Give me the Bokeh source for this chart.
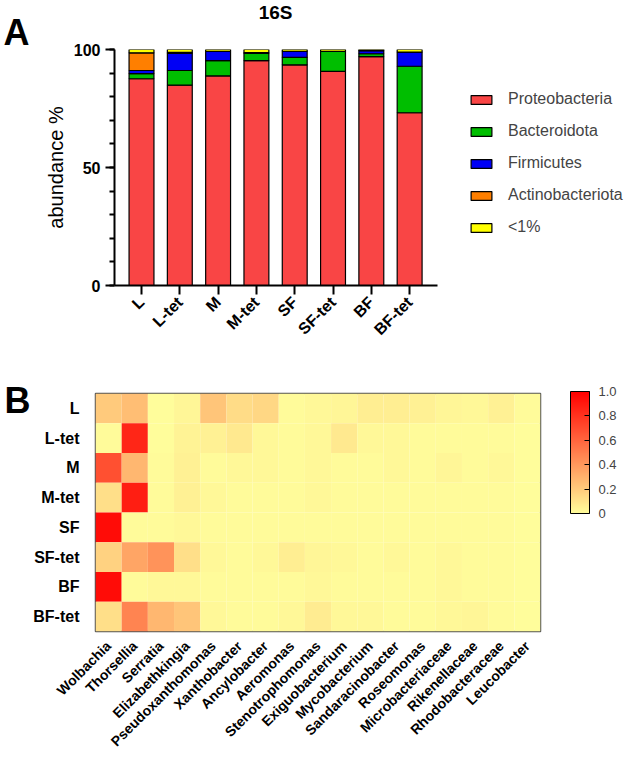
import numpy as np
from math import pi
from bokeh.plotting import figure
from bokeh.models import (ColumnDataSource, FixedTicker, Legend, LegendItem,
                          LinearColorMapper, ColorBar, Range1d, FactorRange)
from bokeh.core.properties import value
from bokeh.embed import file_html
from bokeh.resources import INLINE

# ---------------- data ----------------
samples = ["L", "L-tet", "M", "M-tet", "SF", "SF-tet", "BF", "BF-tet"]
phyla = ["Proteobacteria", "Bacteroidota", "Firmicutes", "Actinobacteriota", "<1%"]
proteobacteria   = [87.6, 84.9, 88.8, 95.3, 93.5, 90.7, 97.0, 73.2]
bacteroidota     = [2.2, 6.2, 6.5, 3.1, 3.2, 8.5, 1.2, 19.7]
firmicutes       = [1.3, 7.3, 3.9, 0.3, 2.5, 0.0, 1.3, 6.0]
actinobacteriota = [7.5, 0.4, 0.0, 0.0, 0.0, 0.0, 0.0, 0.0]
below_1pct       = [1.4, 1.2, 0.8, 1.3, 0.8, 0.8, 0.5, 1.1]
phylum_colors = ["#F94545", "#00BE00", "#0000F5", "#FF7F00", "#FFFF00"]

genera = ["Wolbachia", "Thorsellia", "Serratia", "Elizabethkingia", "Pseudoxanthomonas",
          "Xanthobacter", "Ancylobacter", "Aeromonas", "Stenotrophomonas", "Exiguobacterium",
          "Mycobacterium", "Sandaracinobacter", "Roseomonas", "Microbacteriaceae",
          "Rikenellaceae", "Rhodobacteraceae", "Leucobacter"]
heat_L     = [0.20, 0.25, 0.00, 0.03, 0.22, 0.13, 0.15, 0.01, 0.02, 0.03, 0.06, 0.06, 0.05, 0.03, 0.02, 0.05, 0.01]
heat_Ltet  = [0.01, 0.85, 0.00, 0.04, 0.05, 0.08, 0.02, 0.01, 0.02, 0.08, 0.02, 0.02, 0.01, 0.01, 0.01, 0.01, 0.00]
heat_M     = [0.68, 0.28, 0.01, 0.05, 0.01, 0.02, 0.02, 0.01, 0.02, 0.01, 0.01, 0.02, 0.01, 0.03, 0.01, 0.02, 0.00]
heat_Mtet  = [0.12, 0.88, 0.01, 0.05, 0.02, 0.01, 0.01, 0.01, 0.02, 0.01, 0.01, 0.01, 0.01, 0.01, 0.01, 0.01, 0.00]
heat_SF    = [0.95, 0.01, 0.01, 0.02, 0.01, 0.01, 0.01, 0.01, 0.01, 0.01, 0.01, 0.01, 0.01, 0.01, 0.01, 0.01, 0.00]
heat_SFtet = [0.17, 0.35, 0.42, 0.12, 0.02, 0.01, 0.02, 0.06, 0.03, 0.02, 0.01, 0.02, 0.01, 0.02, 0.01, 0.01, 0.00]
heat_BF    = [0.95, 0.01, 0.02, 0.02, 0.01, 0.01, 0.01, 0.01, 0.02, 0.01, 0.01, 0.01, 0.01, 0.02, 0.01, 0.01, 0.00]
heat_BFtet = [0.12, 0.48, 0.28, 0.22, 0.02, 0.01, 0.01, 0.02, 0.07, 0.02, 0.02, 0.01, 0.01, 0.02, 0.03, 0.01, 0.00]
heat_rows = [heat_L, heat_Ltet, heat_M, heat_Mtet, heat_SF, heat_SFtet, heat_BF, heat_BFtet]
cbar_ticks = [0, 0.2, 0.4, 0.6, 0.8, 1.0]

FONT = "Liberation Sans"

# ---------------- panel A: stacked bars ----------------
xpos = list(range(len(samples)))
src = ColumnDataSource(dict(x=xpos, Proteobacteria=proteobacteria, Bacteroidota=bacteroidota,
                            Firmicutes=firmicutes, Actinobacteriota=actinobacteriota,
                            **{"<1%": below_1pct}))

pa = figure(width=629, height=350, output_backend="svg", toolbar_location=None,
            x_range=Range1d(-0.705, 12.74), y_range=Range1d(0, 100),
            min_border_left=114, min_border_right=0, min_border_top=49, min_border_bottom=65)
pa.outline_line_color = None
pa.grid.visible = False

rs = pa.vbar_stack(phyla, x="x", width=0.65, source=src, color=phylum_colors,
                   line_color="black", line_width=1.2)

xa = pa.xaxis[0]
xa.ticker = FixedTicker(ticks=xpos)
xa.major_label_overrides = {i: s for i, s in enumerate(samples)}
xa.major_label_orientation = pi / 4
xa.bounds = (-0.705, 7.73)
xa.axis_line_width = 2
xa.major_tick_line_width = 2
xa.major_tick_out = 9
xa.major_tick_in = 0
xa.minor_tick_line_color = None
xa.major_label_text_font = FONT
xa.major_label_text_font_style = "bold"
xa.major_label_text_font_size = "16px"
xa.major_label_text_color = "black"
xa.major_label_standoff = 5

ya = pa.yaxis[0]
ya.ticker = FixedTicker(ticks=[0, 50, 100], minor_ticks=list(range(0, 101, 10)))
ya.axis_line_width = 2
ya.major_tick_line_width = 2
ya.minor_tick_line_width = 2
ya.major_tick_out = 9
ya.major_tick_in = 0
ya.minor_tick_out = 5
ya.minor_tick_in = 0
ya.major_label_text_font = FONT
ya.major_label_text_font_style = "bold"
ya.major_label_text_font_size = "16px"
ya.major_label_text_color = "black"
ya.axis_label = "abundance %"
ya.axis_label_text_font = FONT
ya.axis_label_text_font_style = "normal"
ya.axis_label_text_font_size = "20px"
ya.axis_label_text_color = "black"
ya.axis_label_standoff = 4

items = [LegendItem(label=name, renderers=[r]) for name, r in zip(phyla, rs)]
leg = Legend(items=items, location=(354, 48), glyph_width=26, glyph_height=11,
             label_height=20, spacing=12, padding=0, margin=0,
             label_text_font=FONT, label_text_font_size="16px", label_standoff=14,
             border_line_color=None, background_fill_alpha=0)
pa.add_layout(leg, "center")

pa.text(x=[3.5], y=[100], text=["16S"], y_offset=-37, level="overlay",
        text_font=value(FONT), text_font_style="bold", text_font_size="19px",
        text_align="center", text_baseline="alphabetic", text_color="black")
pa.text(x=[-0.705], y=[100], text=["A"], x_offset=-111, y_offset=-17, level="overlay",
        text_font=value(FONT), text_font_style="bold", text_font_size="36px",
        text_align="left", text_baseline="alphabetic", text_color="black")

# ---------------- panel B: heatmap ----------------
xs, ys, vs = [], [], []
for s, row in zip(samples, heat_rows):
    for g, v in zip(genera, row):
        xs.append(g)
        ys.append(s)
        vs.append(v)
hsrc = ColumnDataSource(dict(genus=xs, sample=ys, value=vs))

t = np.linspace(0, 1, 256)
c0 = np.array([255, 253, 155])
c1 = np.array([255, 0, 0])
palette = ["#%02x%02x%02x" % tuple(int(round(v)) for v in (c0 + (c1 - c0) * ti)) for ti in t]
mapper = LinearColorMapper(palette=palette, low=0, high=1)

pb = figure(width=629, height=407, output_backend="svg", toolbar_location=None,
            x_range=FactorRange(*genera), y_range=FactorRange(*reversed(samples)),
            min_border_left=95, min_border_right=89, min_border_top=43, min_border_bottom=124)
pb.grid.visible = False
pb.outline_line_color = "#555555"
pb.outline_line_width = 1.5
pb.rect(x="genus", y="sample", width=1, height=1, source=hsrc,
        fill_color={"field": "value", "transform": mapper}, line_color=None)

for ax in (pb.xaxis[0], pb.yaxis[0]):
    ax.axis_line_color = None
    ax.major_tick_line_color = None
    ax.minor_tick_line_color = None
    ax.major_label_text_font = FONT
    ax.major_label_text_font_style = "bold"
    ax.major_label_text_color = "black"
pb.yaxis[0].major_label_text_font_size = "16px"
pb.yaxis[0].major_label_standoff = 10
pb.xaxis[0].major_label_text_font_size = "14px"
pb.xaxis[0].major_label_orientation = pi / 4
pb.xaxis[0].major_label_standoff = 6

cb = ColorBar(color_mapper=mapper, ticker=FixedTicker(ticks=cbar_ticks),
              major_label_overrides={0: "0", 1: "1.0"}, width=19, height=122,
              location=(30, 118), padding=0, margin=0,
              bar_line_color="black", bar_line_width=1,
              major_tick_line_color="black", major_tick_in=5, major_tick_out=0,
              minor_tick_line_color=None, label_standoff=9,
              major_label_text_font=FONT, major_label_text_font_size="13px",
              background_fill_alpha=0)
pb.add_layout(cb, "right")

pb.text(x=[0], y=[len(samples)], text=["B"], x_offset=-91, y_offset=7, level="overlay",
        text_font=value(FONT), text_font_style="bold", text_font_size="36px",
        text_align="left", text_baseline="alphabetic", text_color="black")

open("out.html", "w").write(file_html([pa, pb], INLINE))
